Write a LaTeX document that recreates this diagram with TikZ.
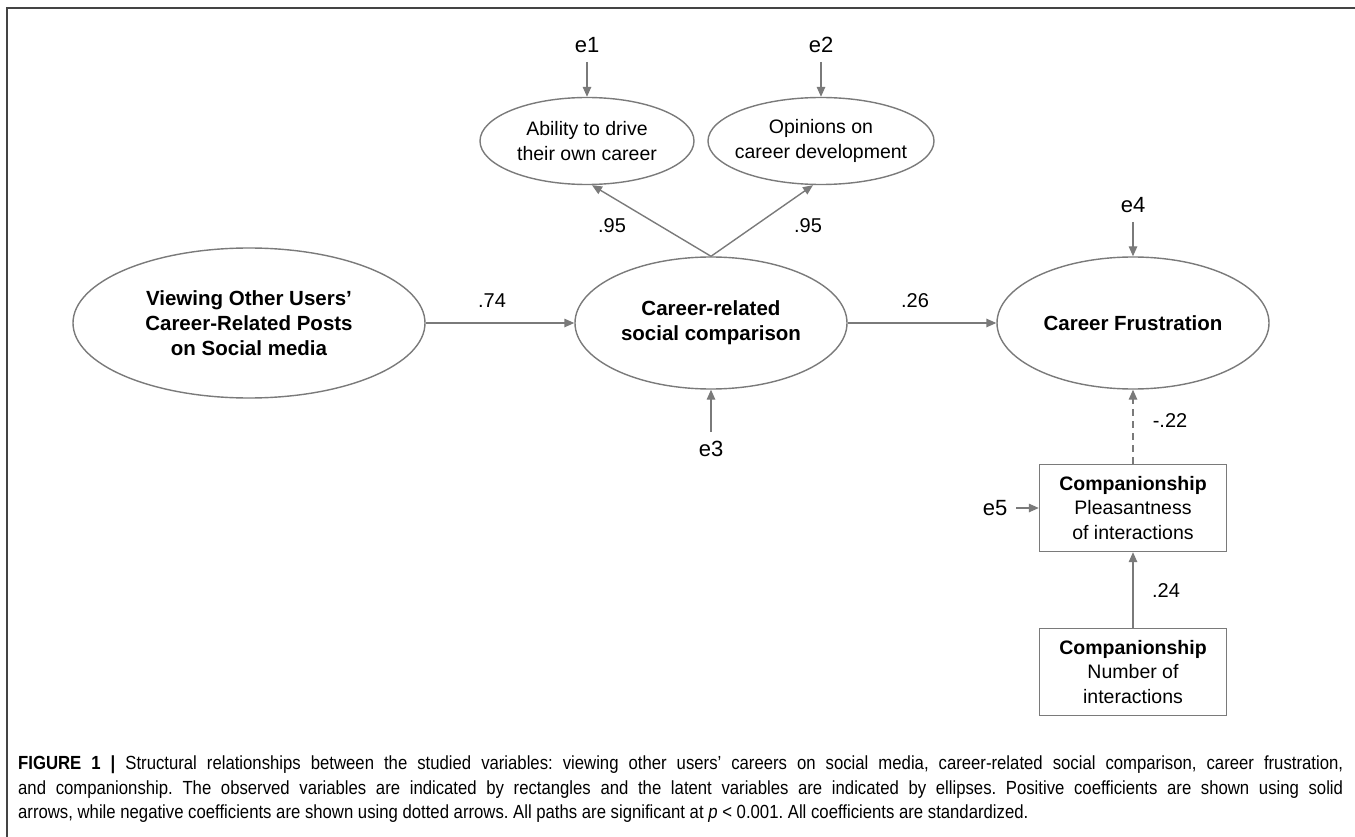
\documentclass[tikz,border=0pt]{standalone}
\usepackage{fontspec}
\setmainfont{Liberation Sans}
\newfontfamily\capfont[FakeStretch=0.88]{Liberation Sans}
\usetikzlibrary{arrows.meta,shapes.geometric,calc}
\definecolor{lc}{HTML}{7A7A7A}
\definecolor{fc}{HTML}{444444}
\frenchspacing
\begin{document}
\begin{tikzpicture}[x=1pt,y=-1pt,
  lat/.style={ellipse,draw=lc,line width=1.4pt,align=center,font=\fontsize{20.5}{25}\selectfont\bfseries,inner sep=0pt},
  ind/.style={ellipse,draw=lc,line width=1.4pt,align=center,font=\fontsize{19.5}{25}\selectfont,inner xsep=-12pt,inner ysep=0pt},
  obs/.style={rectangle,draw=lc,line width=1.4pt,align=center,font=\fontsize{19.5}{24.5}\selectfont,minimum width=187pt,minimum height=87pt,inner sep=0pt},
  err/.style={font=\fontsize{22}{26}\selectfont,inner sep=9pt},
  coef/.style={font=\fontsize{20}{24}\selectfont,inner sep=0pt},
  pth/.style={draw=lc,line width=1.4pt,-{Triangle[length=10pt,width=8.5pt]}},
  captext/.style={anchor=base west,inner sep=0pt,font=\capfont\fontsize{19}{24}\selectfont},
]
\useasboundingbox (0,0) rectangle (1355,837);
\draw[fc,line width=2pt] (7,837) -- (7,8) -- (1355,8);

% nodes
\node[lat,minimum width=352pt,minimum height=150pt] (v) at (249,323) {Viewing Other Users’\\Career-Related Posts\\on Social media};
\node[lat,minimum width=272pt,minimum height=132pt] (c) at (711,323) {Career-related\\social comparison};
\node[lat,minimum width=272pt,minimum height=132pt] (f) at (1133,323) {Career Frustration};
\node[ind,minimum width=214pt,minimum height=87pt] (a1) at (587,141) {Ability to drive\\their own career};
\node[ind,minimum width=226pt,minimum height=87pt] (a2) at (821,141) {Opinions on\\career development};
\node[obs] (b1) at (1133,508) {\textbf{Companionship}\\Pleasantness\\of interactions};
\node[obs] (b2) at (1133,672) {\textbf{Companionship}\\Number of\\interactions};

\node[err] (e1) at (587,45) {e1};
\node[err] (e2) at (821,45) {e2};
\node[err] (e3) at (711,449) {e3};
\node[err] (e4) at (1133,205) {e4};
\node[err] (e5) at (995,508) {e5};

% connectors
\draw[pth] (e1) -- (a1);
\draw[pth] (e2) -- (a2);
\draw[pth] (e3) -- (c);
\draw[pth] (e4) -- (f);
\draw[pth] (e5) -- (b1);
\draw[pth] (v) -- (c);
\draw[pth] (c) -- (f);
\draw[pth] (c.north) -- ([xshift=5pt]a1.south);
\draw[pth] (c.north) -- ([xshift=-8pt]a2.south);
\draw[pth,dash pattern=on 7pt off 5pt] (b1) -- (f);
\draw[pth] (b2) -- (b1);

% coefficients
\node[coef] (k1) at (612,226) {.95};
\node[coef] (k2) at (808,226) {.95};
\node[coef] (k3) at (492,301) {.74};
\node[coef] (k4) at (915,301) {.26};
\node[coef] (k5) at (1170,421) {-.22};
\node[coef] (k6) at (1166,591) {.24};

% caption
\node[captext] (cap1) at (18,769) {\makebox[1325pt][s]{\textbf{FIGURE 1 |} Structural relationships between the studied variables: viewing other users’ careers on social media, career-related social comparison, career frustration,}};
\node[captext] (cap2) at (18,794) {\makebox[1325pt][s]{and companionship. The observed variables are indicated by rectangles and the latent variables are indicated by ellipses. Positive coefficients are shown using solid}};
\node[captext] (cap3) at (18,818) {arrows, while negative coefficients are shown using dotted arrows. All paths are significant at \textit{p} < 0.001. All coefficients are standardized.};
\end{tikzpicture}
\end{document}
